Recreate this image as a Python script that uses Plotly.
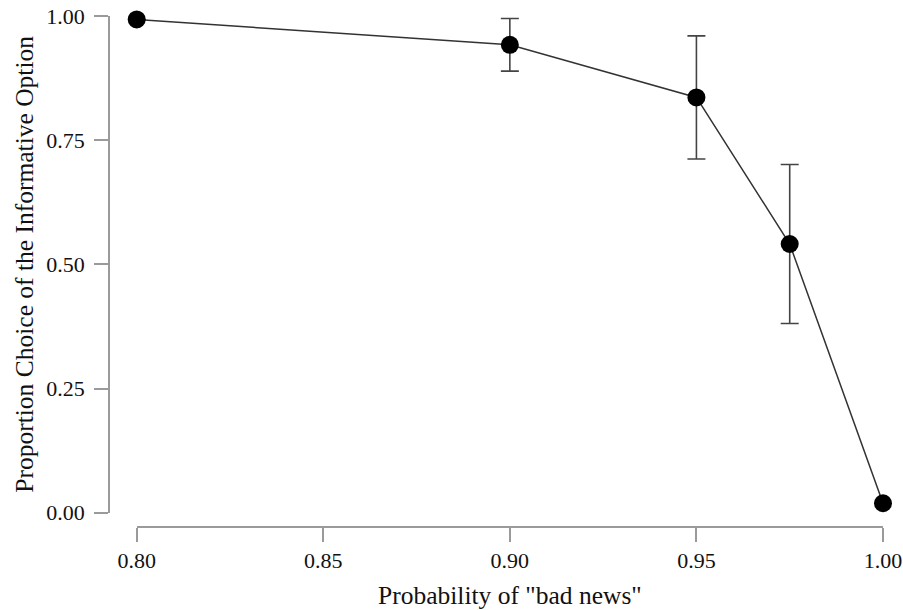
import plotly.graph_objects as go

# Data
prob_bad_news = [0.80, 0.90, 0.95, 0.975, 1.00]
prop_informative = [0.993, 0.942, 0.836, 0.541, 0.019]
err_half = [None, 0.053, 0.124, 0.160, None]

x_ticks = [0.80, 0.85, 0.90, 0.95, 1.00]
x_ticklabels = ["0.80", "0.85", "0.90", "0.95", "1.00"]
y_ticks = [0.00, 0.25, 0.50, 0.75, 1.00]
y_ticklabels = ["0.00", "0.25", "0.50", "0.75", "1.00"]

FONT = "Liberation Serif, Times New Roman, serif"
AXIS_GRAY = "#9a9a9a"

fig = go.Figure()
fig.add_trace(go.Scatter(
    x=prob_bad_news,
    y=prop_informative,
    mode="lines+markers",
    line=dict(color="#333333", width=1.5),
    marker=dict(color="black", size=18, line=dict(width=0)),
    error_y=dict(type="data", array=err_half, visible=True,
                 color="#444444", thickness=1.6, width=9),
    cliponaxis=False,
    showlegend=False,
))

W, H = 903, 610
ml, mr, mt, mb = 109, 20, 16, 83
pw = W - ml - mr
ph = H - mt - mb
x_dom0 = (136.7 - ml) / pw
y_dom0 = ((H - mb) - 512.7) / ph

fig.update_layout(
    width=W, height=H,
    margin=dict(l=ml, r=mr, t=mt, b=mb, pad=0),
    paper_bgcolor="white", plot_bgcolor="white",
    font=dict(family=FONT, color="#111111", size=22),
    xaxis=dict(
        domain=[x_dom0, 1], range=[0.80, 1.00], anchor="free", position=0,
        tickmode="array", tickvals=x_ticks, ticktext=x_ticklabels,
        showgrid=False, zeroline=False,
        showline=True, linecolor=AXIS_GRAY, linewidth=1.5,
        ticks="outside", ticklen=14, tickwidth=1.5, tickcolor=AXIS_GRAY,
        tickfont=dict(family=FONT, size=22, color="#111111"),
        title=dict(text='Probability of "bad news"', standoff=14,
                   font=dict(family=FONT, size=25.5, color="#111111")),
        automargin=False,
    ),
    yaxis=dict(
        domain=[y_dom0, 1], range=[0, 1], anchor="free", position=0,
        tickmode="array", tickvals=y_ticks, ticktext=y_ticklabels,
        showgrid=False, zeroline=False,
        showline=True, linecolor=AXIS_GRAY, linewidth=1.5,
        ticks="outside", ticklen=14, tickwidth=1.5, tickcolor=AXIS_GRAY,
        ticklabelstandoff=5,
        tickfont=dict(family=FONT, size=22, color="#111111"),
        title=dict(text="Proportion Choice of the Informative Option", standoff=4,
                   font=dict(family=FONT, size=25.5, color="#111111")),
        automargin=False,
    ),
)

fig.write_html("out.html")
